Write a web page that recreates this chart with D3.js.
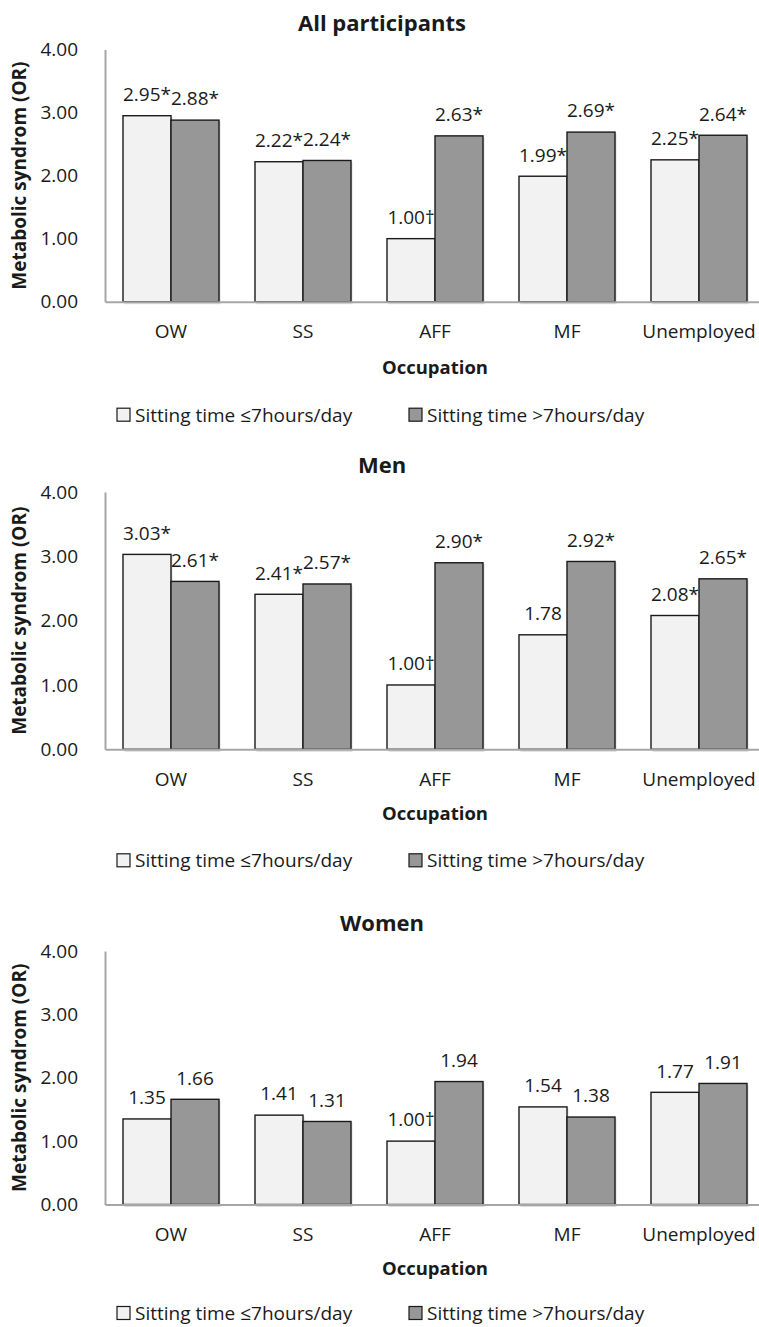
<!DOCTYPE html>
<html>
<head>
<meta charset="utf-8">
<script src="https://cdn.jsdelivr.net/npm/d3@7"></script>
<style>
  html, body { margin: 0; padding: 0; background: #fff; }
  svg { display: block; font-family: "Open Sans", sans-serif; }
</style>
</head>
<body>
<svg id="chart" width="759" height="1327"></svg>
<script>
// ---- data ----
const categories = ["OW", "SS", "AFF", "MF", "Unemployed"];
const seriesNames = ["Sitting time \u22647hours/day", "Sitting time >7hours/day"];
const yTicks = [0, 1, 2, 3, 4];

const panelTitles = ["All participants", "Men", "Women"];

const allLow   = [2.95, 2.22, 1.00, 1.99, 2.25];
const allHigh  = [2.88, 2.24, 2.63, 2.69, 2.64];
const allLowMarks  = ["*", "*", "\u2020", "*", "*"];
const allHighMarks = ["*", "*", "*", "*", "*"];

const menLow   = [3.03, 2.41, 1.00, 1.78, 2.08];
const menHigh  = [2.61, 2.57, 2.90, 2.92, 2.65];
const menLowMarks  = ["*", "*", "\u2020", "", "*"];
const menHighMarks = ["*", "*", "*", "*", "*"];

const womenLow   = [1.35, 1.41, 1.00, 1.54, 1.77];
const womenHigh  = [1.66, 1.31, 1.94, 1.38, 1.91];
const womenLowMarks  = ["", "", "\u2020", "", ""];
const womenHighMarks = ["", "", "", "", ""];

const yTitle = "Metabolic syndrom (OR)";
const xTitle = "Occupation";

// ---- layout (not data) ----
const layout = [
  { titleY: 31,  top: 49.5, base: 301.7, xt: 72, leg: 113 },
  { titleY: 473, top: 492,  base: 749.3, xt: 71, leg: 111 },
  { titleY: 931, top: 951,  base: 1204.5, xt: 70, leg: 108.5 }
];
const panelData = [
  [allLow, allHigh, allLowMarks, allHighMarks],
  [menLow, menHigh, menLowMarks, menHighMarks],
  [womenLow, womenHigh, womenLowMarks, womenHighMarks]
];
const fills = ["#f2f2f2", "#979797"];
const axisColor = "#a6a6a6";
const textColor = "#1a1a1a";

const svg = d3.select("#chart");

const x0 = d3.scaleBand().domain(categories).range([105, 765]).paddingInner(0).paddingOuter(0);
const x1 = d3.scaleBand().domain([0, 1]).range([0, x0.bandwidth()]).paddingInner(0).paddingOuter(0.375);

panelTitles.forEach((title, pi) => {
  const L = layout[pi];
  const [low, high, lowM, highM] = panelData[pi];
  const y = d3.scaleLinear().domain([0, 4]).range([L.base, L.top]);
  const g = svg.append("g");

  // title
  g.append("text")
    .attr("x", 382).attr("y", L.titleY)
    .attr("text-anchor", "middle")
    .attr("font-weight", "bold").attr("font-size", 22)
    .attr("fill", textColor)
    .text(title);

  // y axis
  const yAxis = d3.axisLeft(y).tickValues(yTicks).tickFormat(d3.format(".2f"))
    .tickSize(0).tickPadding(27);
  const ya = g.append("g").attr("transform", "translate(105,0)").call(yAxis);
  ya.select(".domain").attr("stroke", axisColor).attr("stroke-width", 2);
  ya.selectAll("text").attr("font-size", 19).attr("fill", textColor)
    .attr("font-family", "Open Sans, sans-serif");

  // y title
  g.append("text")
    .attr("transform", `translate(26,${(L.top + L.base) / 2}) rotate(-90)`)
    .attr("text-anchor", "middle")
    .attr("font-weight", "bold").attr("font-size", 19)
    .attr("fill", textColor)
    .text(yTitle);

  // bars
  const rows = categories.map((c, i) => ({ c, vals: [low[i], high[i]], marks: [lowM[i], highM[i]] }));
  const barData = [];
  rows.forEach(r => r.vals.forEach((v, s) => barData.push({ c: r.c, s, v, m: r.marks[s] })));

  // soft shadows
  g.selectAll("rect.shadow").data(barData).join("rect")
    .attr("class", "shadow")
    .attr("x", d => x0(d.c) + x1(d.s) + 1.5)
    .attr("y", d => y(d.v) + 1.5)
    .attr("width", x1.bandwidth())
    .attr("height", d => L.base - y(d.v) + 1)
    .attr("fill", "#dcdcdc");

  g.selectAll("rect.bar").data(barData).join("rect")
    .attr("class", "bar")
    .attr("x", d => x0(d.c) + x1(d.s))
    .attr("y", d => y(d.v))
    .attr("width", x1.bandwidth())
    .attr("height", d => L.base - y(d.v))
    .attr("fill", d => fills[d.s])
    .attr("stroke", "#1a1a1a").attr("stroke-width", 1.4);

  // x axis
  const xAxis = d3.axisBottom(x0).tickSize(0).tickPadding(23);
  const xa = g.append("g").attr("transform", `translate(0,${L.base})`).call(xAxis);
  xa.select(".domain").attr("stroke", axisColor).attr("stroke-width", 2);
  xa.selectAll("text").attr("font-size", 19).attr("fill", textColor)
    .attr("font-family", "Open Sans, sans-serif");

  // data labels
  g.selectAll("text.lbl").data(barData).join("text")
    .attr("class", "lbl")
    .attr("x", d => x0(d.c) + x1(d.s) + x1.bandwidth() / 2)
    .attr("y", d => y(d.v) - 21.5)
    .attr("dy", "0.36em")
    .attr("text-anchor", "middle")
    .attr("font-size", 19)
    .attr("fill", textColor)
    .text(d => d3.format(".2f")(d.v) + d.m);

  // x title
  g.append("text")
    .attr("x", 435).attr("y", L.base + L.xt)
    .attr("text-anchor", "middle")
    .attr("font-weight", "bold").attr("font-size", 18.5)
    .attr("fill", textColor)
    .text(xTitle);

  // legend
  const legX = [117, 409];
  const legY = L.base + L.leg;
  seriesNames.forEach((name, s) => {
    g.append("rect")
      .attr("x", legX[s]).attr("y", legY - 6.5)
      .attr("width", 13).attr("height", 13)
      .attr("fill", fills[s]).attr("stroke", "#1a1a1a").attr("stroke-width", 1.2);
    g.append("text")
      .attr("x", legX[s] + 18).attr("y", legY)
      .attr("dy", "0.36em")
      .attr("font-size", 19).attr("fill", textColor)
      .text(name);
  });
});
</script>
</body>
</html>
